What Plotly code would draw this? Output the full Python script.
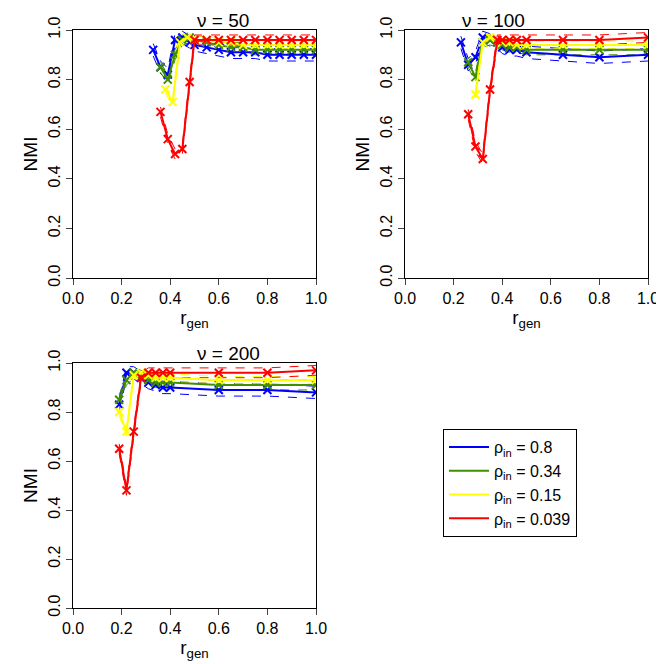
import plotly.graph_objects as go

colors = ["#0000ff", "#3f8f00", "#ffff00", "#ff0000"]
names = ["ρ<sub>in</sub> = 0.8", "ρ<sub>in</sub> = 0.34", "ρ<sub>in</sub> = 0.15", "ρ<sub>in</sub> = 0.039"]
titles = ["ν = 50", "ν = 100", "ν = 200"]

tail1 = [0.5, 0.55, 0.6, 0.65, 0.7, 0.75, 0.8, 0.85, 0.9, 0.95, 1.0]
p1_x = [
    [0.33, 0.36, 0.39, 0.42, 0.45, 0.48] + tail1,
    [0.36, 0.39, 0.42, 0.45, 0.48] + tail1,
    [0.38, 0.41, 0.44, 0.47] + tail1,
    [0.36, 0.39, 0.42, 0.45, 0.48] + tail1,
]
p1_y = [
    [0.92, 0.85, 0.82, 0.96, 0.97, 0.95, 0.94, 0.93, 0.92, 0.91, 0.91, 0.91, 0.90, 0.90, 0.90, 0.90, 0.90],
    [0.85, 0.80, 0.90, 0.96, 0.97, 0.96, 0.95, 0.94, 0.93, 0.93, 0.92, 0.92, 0.92, 0.92, 0.92, 0.92],
    [0.76, 0.71, 0.95, 0.97, 0.96, 0.96, 0.95, 0.95, 0.94, 0.94, 0.94, 0.94, 0.94, 0.94, 0.94],
    [0.67, 0.56, 0.50, 0.52, 0.79, 0.96, 0.96, 0.96, 0.96, 0.96, 0.96, 0.96, 0.96, 0.96, 0.96, 0.96],
]
tail2 = [0.38, 0.40, 0.43, 0.46, 0.5, 0.65, 0.8, 1.0]
p2_x = [
    [0.23, 0.26, 0.29, 0.32, 0.35] + tail2,
    [0.26, 0.29, 0.32, 0.35] + tail2,
    [0.29, 0.32, 0.35] + tail2,
    [0.26, 0.29, 0.32, 0.35] + tail2,
]
p2_y = [
    [0.95, 0.86, 0.89, 0.97, 0.96, 0.95, 0.93, 0.92, 0.92, 0.91, 0.90, 0.89, 0.90],
    [0.87, 0.81, 0.95, 0.96, 0.95, 0.94, 0.93, 0.93, 0.92, 0.92, 0.92, 0.92],
    [0.74, 0.95, 0.97, 0.96, 0.95, 0.95, 0.94, 0.94, 0.94, 0.94, 0.94],
    [0.66, 0.53, 0.48, 0.76, 0.96, 0.96, 0.96, 0.96, 0.96, 0.96, 0.96, 0.97],
]
tail3 = [0.28, 0.31, 0.34, 0.37, 0.4, 0.6, 0.8, 1.0]
p3_x = [
    [0.19, 0.22, 0.25] + tail3,
    [0.19, 0.22, 0.25] + tail3,
    [0.19, 0.22, 0.25] + tail3,
    [0.19, 0.22, 0.25] + tail3,
]
p3_y = [
    [0.83, 0.96, 0.96, 0.94, 0.92, 0.91, 0.90, 0.90, 0.89, 0.89, 0.88],
    [0.85, 0.93, 0.96, 0.95, 0.93, 0.92, 0.92, 0.92, 0.91, 0.91, 0.91],
    [0.80, 0.72, 0.95, 0.96, 0.95, 0.94, 0.94, 0.94, 0.93, 0.93, 0.93],
    [0.65, 0.48, 0.72, 0.94, 0.96, 0.96, 0.96, 0.96, 0.96, 0.96, 0.97],
]
band = [0.025, 0.02, 0.015, 0.02]

panels = [(p1_x, p1_y), (p2_x, p2_y), (p3_x, p3_y)]
fig = go.Figure()
for pi, (px, py) in enumerate(panels):
    ax = "" if pi == 0 else str(pi + 1)
    for si in range(4):
        xs, ys = px[si], py[si]
        for sgn in (-1, 1):
            fig.add_trace(go.Scatter(x=xs, y=[v + sgn * band[si] for v in ys], mode="lines",
                                     line=dict(color=colors[si], width=1, dash="dash"),
                                     xaxis="x" + ax, yaxis="y" + ax, showlegend=False, hoverinfo="skip"))
    for si in range(4):
        fig.add_trace(go.Scatter(x=px[si], y=py[si], mode="lines+markers",
                                 line=dict(color=colors[si], width=2),
                                 marker=dict(symbol="x-thin", size=8, line=dict(color=colors[si], width=2)),
                                 xaxis="x" + ax, yaxis="y" + ax, showlegend=False))
# legend entries: lines only
for si in range(4):
    fig.add_trace(go.Scatter(x=[None], y=[None], mode="lines", name=names[si],
                             line=dict(color=colors[si], width=2), xaxis="x", yaxis="y"))

W = 664
dom = [((65 / W, 308 / W), (1 - 270 / W, 1 - 22 / W)),
       ((397 / W, 640 / W), (1 - 270 / W, 1 - 22 / W)),
       ((65 / W, 308 / W), (1 - 600 / W, 1 - 355 / W))]
ticks = [0, 0.2, 0.4, 0.6, 0.8, 1.0]
ticktext = ["0.0", "0.2", "0.4", "0.6", "0.8", "1.0"]
lay = {}
for i, (dx, dy) in enumerate(dom):
    k = "" if i == 0 else str(i + 1)
    common = dict(range=[0, 1], tickvals=ticks, ticktext=ticktext, ticks="outside", ticklen=6,
                  showgrid=False, zeroline=False, showline=True, mirror=True, linecolor="black",
                  linewidth=1, tickfont=dict(size=16, color="black"), automargin=False)
    lay["xaxis" + k] = dict(common, domain=list(dx), anchor="y" + k,
                            title=dict(text="r<sub>gen</sub>", font=dict(size=19), standoff=0))
    lay["yaxis" + k] = dict(common, domain=list(dy), anchor="x" + k, tickangle=-90,
                            title=dict(text="NMI", font=dict(size=19), standoff=2))
fig.update_layout(**lay)
ann = []
for i, (dx, dy) in enumerate(dom):
    ann.append(dict(text=titles[i], x=(dx[0] + dx[1]) / 2, y=dy[1], xref="paper", yref="paper",
                    yanchor="bottom", yshift=-3, showarrow=False, font=dict(size=19, color="black")))
fig.update_layout(
    width=664, height=664, margin=dict(l=0, r=0, t=0, b=0, autoexpand=False),
    plot_bgcolor="white", paper_bgcolor="white",
    font=dict(family="Liberation Sans, Arial", color="black"),
    annotations=ann,
    legend=dict(x=435 / W, y=1 - 421 / W, xanchor="left", yanchor="top",
                bordercolor="black", borderwidth=1, font=dict(size=16),
                tracegroupgap=0, itemwidth=40),
)
fig.write_html("out.html")
